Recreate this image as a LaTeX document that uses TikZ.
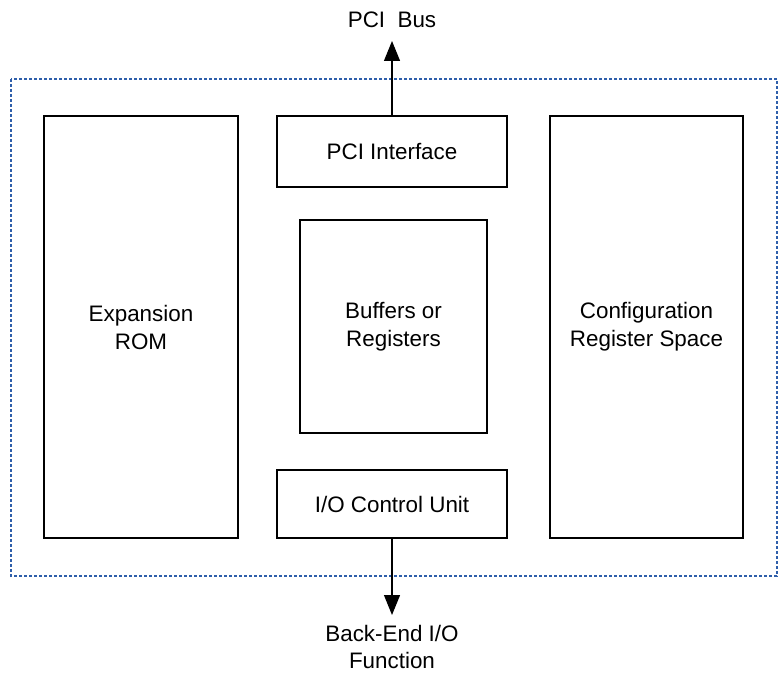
\documentclass[tikz,border=0pt]{standalone}
\usepackage{fontspec}
\setmainfont{Liberation Sans}
\usetikzlibrary{arrows.meta}
\definecolor{dotblue}{RGB}{46,94,170}
\tikzset{
  block/.style={draw=black, line width=0.6pt, align=center, inner sep=0pt,
    font=\fontsize{11.2}{14}\selectfont},
  textlbl/.style={align=center, inner sep=0pt, font=\fontsize{11.2}{13.5}\selectfont},
  outerbox/.style={draw=dotblue, line width=0.6pt, dash pattern=on 1.5pt off 1pt},
  link/.style={line width=0.6pt, -{Triangle[width=8pt,length=10pt]}},
}
\begin{document}
\begin{tikzpicture}[x=0.5pt,y=-0.5pt]
  \useasboundingbox (0,0) rectangle (780,674);
  % card outline
  \draw [outerbox] (11,79) rectangle (777,576);

  \node [block, minimum width=97pt, minimum height=211pt] (rom) at (141,327) {Expansion\\ROM};
  \node [block, minimum width=96.5pt, minimum height=211pt] (config) at (646.5,327) {Configuration\\Register Space};
  \node [block, minimum width=115pt, minimum height=35.5pt] (pci) at (392,151.5) {PCI Interface};
  \node [block, minimum width=93.5pt, minimum height=106.5pt] (buf) at (393.5,326.5) {Buffers or\\Registers};
  \node [block, minimum width=115pt, minimum height=34pt] (io) at (392,504) {I/O Control Unit};

  % outside labels
  \node [textlbl] (bus) at (392,20) {PCI\ \ Bus};
  \node [textlbl] (func) at (392,647) {Back-End I/O\\Function};
  \coordinate (bustip) at (392,41);
  \coordinate (functip) at (392,615);

  \draw [link] (pci) -- (bustip);
  \draw [link] (io) -- (functip);
\end{tikzpicture}
\end{document}
